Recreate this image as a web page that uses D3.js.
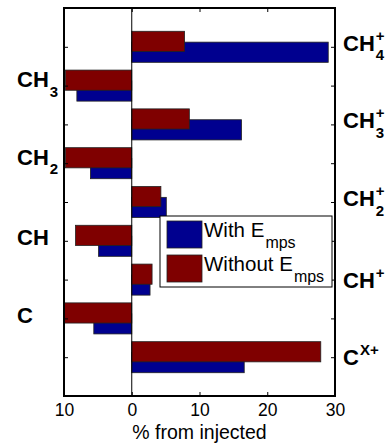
<!DOCTYPE html>
<html>
<head>
<meta charset="utf-8">
<script src="https://cdn.jsdelivr.net/npm/d3@7"></script>
<style>
  body { margin: 0; background: #fff; }
  text { font-family: "Liberation Sans", Arial, sans-serif; fill: #000; }
</style>
</head>
<body>
<svg id="chart" width="388" height="443"></svg>
<script>
// row positions 1..9 from top; ions on odd rows, neutrals (plotted negative) on even rows
const rows = [1, 2, 3, 4, 5, 6, 7, 8, 9];
const withEmps = [29.0, -8.1, 16.2, -6.1, 5.1, -4.9, 2.7, -5.6, 16.6];
const withoutEmps = [7.8, -9.8, 8.5, -9.8, 4.3, -8.3, 3.0, -10.0, 27.9];

const leftRows = [2, 4, 6, 8];
const leftBase = ['CH', 'CH', 'CH', 'C'];
const leftSub = ['3', '2', '', ''];

const rightRows = [1, 3, 5, 7, 9];
const rightBase = ['CH', 'CH', 'CH', 'CH', 'C'];
const rightSub = ['4', '3', '2', '', ''];
const rightSup = ['+', '+', '+', '+', 'X+'];

const xTicks = [-10, 0, 10, 20, 30];
const seriesNames = ['With E', 'Without E'];
const seriesSub = 'mps';
const xLabel = '% from injected';

const blue = '#00008f';
const red = '#7f0000';

const svg = d3.select('#chart');
const x0px = 64, x1px = 335, y0px = 8, y1px = 396;

const x = d3.scaleLinear().domain([-10, 30]).range([x0px, x1px]);
const y = d3.scaleLinear().domain([0, 10]).range([y0px, y1px]);
const step = y(1) - y(0);
const barH = step * 0.52;
const off = step * 0.14;

// bars: "with" below the tick, "without" above and drawn over it
svg.append('g').selectAll('rect')
  .data(rows.map((r, i) => ({r, v: withEmps[i]})))
  .join('rect')
  .attr('x', d => x(Math.min(0, d.v)))
  .attr('width', d => Math.abs(x(d.v) - x(0)))
  .attr('y', d => y(d.r) + off - barH / 2)
  .attr('height', barH)
  .attr('fill', blue)
  .attr('stroke', '#222')
  .attr('stroke-width', 0.8);

svg.append('g').selectAll('rect')
  .data(rows.map((r, i) => ({r, v: withoutEmps[i]})))
  .join('rect')
  .attr('x', d => x(Math.min(0, d.v)))
  .attr('width', d => Math.abs(x(d.v) - x(0)))
  .attr('y', d => y(d.r) - off - barH / 2)
  .attr('height', barH)
  .attr('fill', red)
  .attr('stroke', '#222')
  .attr('stroke-width', 0.8);

// zero line
svg.append('line')
  .attr('x1', x(0)).attr('x2', x(0))
  .attr('y1', y0px).attr('y2', y1px)
  .attr('stroke', '#000').attr('stroke-width', 1);

// axes with inward ticks
const fmt = d => Math.abs(d);
svg.append('g')
  .attr('transform', `translate(0,${y1px})`)
  .call(d3.axisBottom(x).tickValues(xTicks).tickFormat(fmt).tickSizeInner(-4).tickSizeOuter(0).tickPadding(8))
  .call(g => g.select('.domain').remove())
  .call(g => g.selectAll('text').attr('font-size', 17.5).attr('font-family', '"Liberation Sans", Arial, sans-serif'));

svg.append('g')
  .attr('transform', `translate(0,${y0px})`)
  .call(d3.axisTop(x).tickValues(xTicks).tickFormat('').tickSizeInner(-4).tickSizeOuter(0))
  .call(g => g.select('.domain').remove());

svg.append('g')
  .attr('transform', `translate(${x0px},0)`)
  .call(d3.axisLeft(y).tickValues(rows).tickFormat('').tickSizeInner(-4).tickSizeOuter(0))
  .call(g => g.select('.domain').remove());

svg.append('g')
  .attr('transform', `translate(${x1px},0)`)
  .call(d3.axisRight(y).tickValues(rows).tickFormat('').tickSizeInner(-4).tickSizeOuter(0))
  .call(g => g.select('.domain').remove());

// frame
svg.append('rect')
  .attr('x', x0px).attr('y', y0px)
  .attr('width', x1px - x0px).attr('height', y1px - y0px)
  .attr('fill', 'none').attr('stroke', '#000').attr('stroke-width', 2);

// species labels with sub/superscripts stacked at the same x
function species(g, xs, yBase, base, sub, sup) {
  const t = g.append('text')
    .attr('x', xs).attr('y', yBase)
    .attr('font-size', 22).attr('font-weight', 'bold')
    .text(base);
  const w = t.node().getComputedTextLength();
  if (sub) {
    g.append('text')
      .attr('x', xs + w + 1).attr('y', yBase + 9.5)
      .attr('font-size', 15).attr('font-weight', 'bold')
      .text(sub);
  }
  if (sup) {
    g.append('text')
      .attr('x', xs + w + 1).attr('y', yBase - 10)
      .attr('font-size', 15).attr('font-weight', 'bold')
      .text(sup);
  }
}

const labels = svg.append('g');
leftRows.forEach((r, i) => {
  const dy = leftSub[i] ? 1.5 : 4.5;
  species(labels, 17, y(r) + dy, leftBase[i], leftSub[i], '');
});
rightRows.forEach((r, i) => {
  const dy = rightSub[i] ? 4 : 8;
  species(labels, 343, y(r) + dy, rightBase[i], rightSub[i], rightSup[i]);
});

// x label
svg.append('text')
  .attr('x', (x0px + x1px) / 2).attr('y', 439)
  .attr('text-anchor', 'middle')
  .attr('font-size', 19.5)
  .text(xLabel);

// legend
const lg = svg.append('g');
lg.append('rect')
  .attr('x', 160).attr('y', 216).attr('width', 172).attr('height', 71)
  .attr('fill', '#fff').attr('stroke', '#000').attr('stroke-width', 1);
[blue, red].forEach((c, i) => {
  const yy = 221 + i * 34;
  lg.append('rect')
    .attr('x', 167).attr('y', yy).attr('width', 35).attr('height', 27)
    .attr('fill', c).attr('stroke', '#222').attr('stroke-width', 0.8);
  const t = lg.append('text')
    .attr('x', 204).attr('y', yy + 16)
    .attr('font-size', 20.5)
    .text(seriesNames[i]);
  const w = t.node().getComputedTextLength();
  lg.append('text')
    .attr('x', 204 + w + 1).attr('y', yy + 27)
    .attr('font-size', 16)
    .text(seriesSub);
});
</script>
</body>
</html>
